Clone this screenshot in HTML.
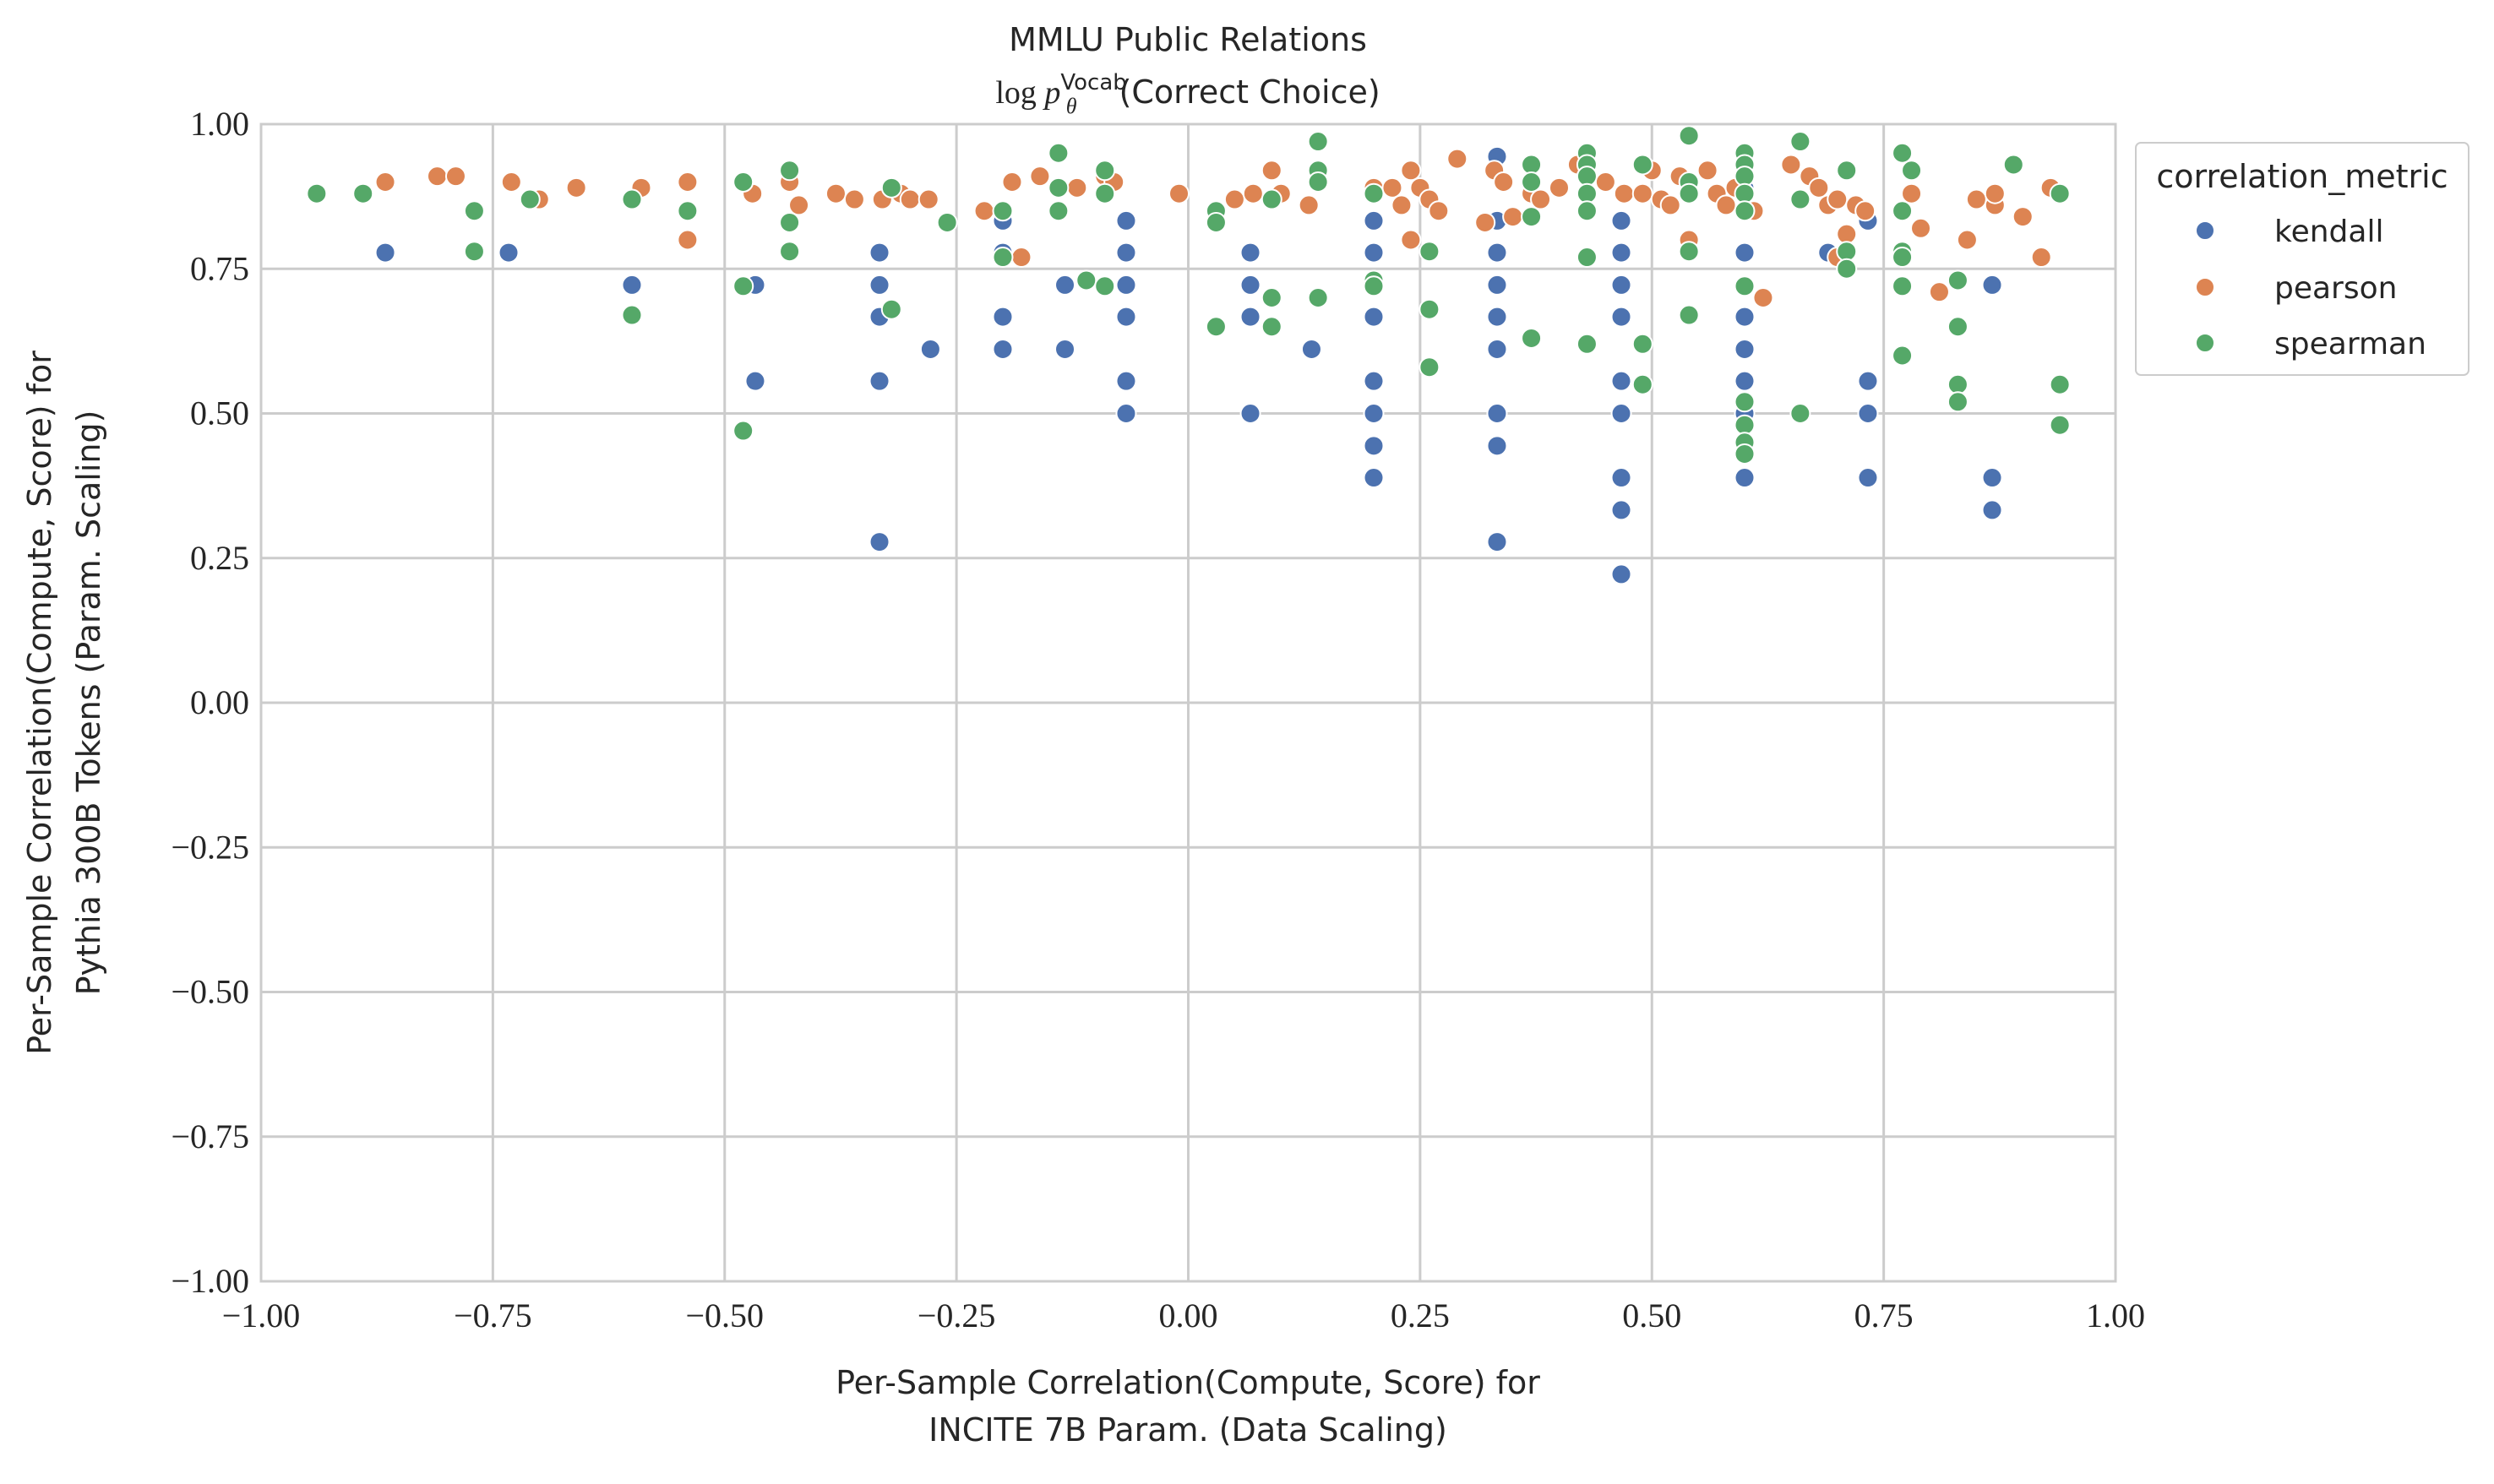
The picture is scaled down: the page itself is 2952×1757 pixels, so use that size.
<!DOCTYPE html>
<html><head><meta charset="utf-8"><style>
body{margin:0;background:#fff;}
svg text{font-family:"DejaVu Sans","Liberation Sans",sans-serif;fill:#262626;}
.tick{font-family:"Liberation Serif",serif;font-size:40px;}
</style></head><body>
<svg id="chart" width="2952" height="1752" viewBox="0 0 2952 1752" xmlns="http://www.w3.org/2000/svg">
<rect width="2952" height="1752" fill="#fff"/>
<g id="grid"></g>
<g id="points"></g>
<rect x="309" y="147" width="2195" height="1370" fill="none" stroke="#cccccc" stroke-width="3"/>
<g id="ticks"></g>
<text x="1406" y="60" text-anchor="middle" font-size="38">MMLU Public Relations</text>
<text x="1406" y="122" text-anchor="middle" font-size="38"><tspan font-family="Liberation Serif" font-style="normal">log </tspan><tspan font-family="Liberation Serif" font-style="italic">p</tspan><tspan font-size="26" dy="-16">Vocab</tspan><tspan font-family="Liberation Serif" font-style="italic" font-size="26" dx="-72" dy="28">θ</tspan><tspan dx="50" dy="-12">(Correct Choice)</tspan></text>
<text x="1406" y="1650" text-anchor="middle" font-size="38">Per-Sample Correlation(Compute, Score) for</text>
<text x="1406" y="1706" text-anchor="middle" font-size="38">INCITE 7B Param. (Data Scaling)</text>
<text transform="translate(60,832) rotate(-90)" text-anchor="middle" font-size="38">Per-Sample Correlation(Compute, Score) for</text>
<text transform="translate(118,832) rotate(-90)" text-anchor="middle" font-size="38">Pythia 300B Tokens (Param. Scaling)</text>
<g>
<rect x="2528" y="169" width="394" height="275" rx="6" fill="#fff" stroke="#cccccc" stroke-width="2"/>
<text x="2725" y="222" text-anchor="middle" font-size="38">correlation_metric</text>
<g><circle cx="2610" cy="273" r="11" fill="#4c72b0" stroke="#fff" stroke-width="2"/><text x="2692" y="286" font-size="36">kendall</text></g>
<g><circle cx="2610" cy="340" r="11" fill="#dd8452" stroke="#fff" stroke-width="2"/><text x="2692" y="353" font-size="36">pearson</text></g>
<g><circle cx="2610" cy="406" r="11" fill="#55a868" stroke="#fff" stroke-width="2"/><text x="2692" y="419" font-size="36">spearman</text></g>
</g>
</svg>
<script>
const xTicks=[-1,-0.75,-0.5,-0.25,0,0.25,0.5,0.75,1];
const yTicks=[-1,-0.75,-0.5,-0.25,0,0.25,0.5,0.75,1];
const kendallX=[-0.866,-0.733,-0.6,-0.467,-0.467,-0.333,-0.333,-0.333,-0.333,-0.333,-0.278,-0.2,-0.2,-0.2,-0.2,-0.133,-0.133,-0.067,-0.067,-0.067,-0.067,-0.067,-0.067,0.067,0.067,0.067,0.067,0.133,0.2,0.2,0.2,0.2,0.2,0.2,0.2,0.2,0.333,0.333,0.333,0.333,0.333,0.333,0.333,0.333,0.333,0.467,0.467,0.467,0.467,0.467,0.467,0.467,0.467,0.467,0.6,0.6,0.6,0.6,0.6,0.6,0.6,0.6,0.69,0.733,0.733,0.733,0.733,0.867,0.867,0.867];
const kendallY=[0.778,0.778,0.722,0.722,0.556,0.778,0.722,0.667,0.556,0.278,0.611,0.833,0.778,0.667,0.611,0.722,0.611,0.833,0.778,0.722,0.667,0.556,0.5,0.778,0.722,0.667,0.5,0.611,0.833,0.778,0.722,0.667,0.556,0.5,0.444,0.389,0.944,0.833,0.778,0.722,0.667,0.611,0.5,0.444,0.278,0.833,0.778,0.722,0.667,0.556,0.5,0.389,0.333,0.222,0.889,0.778,0.722,0.667,0.611,0.556,0.5,0.389,0.778,0.833,0.556,0.5,0.389,0.722,0.389,0.333];
const pearsonX=[-0.866,-0.81,-0.79,-0.73,-0.7,-0.66,-0.59,-0.54,-0.54,-0.47,-0.43,-0.42,-0.38,-0.36,-0.33,-0.31,-0.3,-0.28,-0.22,-0.19,-0.18,-0.16,-0.12,-0.09,-0.08,-0.01,0.05,0.07,0.09,0.1,0.13,0.2,0.22,0.23,0.24,0.24,0.25,0.26,0.27,0.29,0.32,0.33,0.34,0.35,0.37,0.38,0.4,0.42,0.43,0.45,0.47,0.49,0.5,0.51,0.52,0.53,0.54,0.56,0.57,0.58,0.59,0.61,0.62,0.65,0.67,0.68,0.69,0.7,0.7,0.71,0.72,0.73,0.78,0.79,0.81,0.84,0.85,0.87,0.87,0.9,0.92,0.93];
const pearsonY=[0.9,0.91,0.91,0.9,0.87,0.89,0.89,0.8,0.9,0.88,0.9,0.86,0.88,0.87,0.87,0.88,0.87,0.87,0.85,0.9,0.77,0.91,0.89,0.91,0.9,0.88,0.87,0.88,0.92,0.88,0.86,0.89,0.89,0.86,0.92,0.8,0.89,0.87,0.85,0.94,0.83,0.92,0.9,0.84,0.88,0.87,0.89,0.93,0.88,0.9,0.88,0.88,0.92,0.87,0.86,0.91,0.8,0.92,0.88,0.86,0.89,0.85,0.7,0.93,0.91,0.89,0.86,0.87,0.77,0.81,0.86,0.85,0.88,0.82,0.71,0.8,0.87,0.86,0.88,0.84,0.77,0.89];
const spearmanX=[-0.94,-0.89,-0.77,-0.77,-0.71,-0.6,-0.6,-0.54,-0.48,-0.48,-0.48,-0.43,-0.43,-0.43,-0.32,-0.32,-0.26,-0.2,-0.2,-0.14,-0.14,-0.14,-0.11,-0.09,-0.09,-0.09,0.03,0.03,0.03,0.09,0.09,0.09,0.14,0.14,0.14,0.14,0.2,0.2,0.2,0.26,0.26,0.26,0.37,0.37,0.37,0.37,0.43,0.43,0.43,0.43,0.43,0.43,0.43,0.49,0.49,0.49,0.54,0.54,0.54,0.54,0.54,0.6,0.6,0.6,0.6,0.6,0.6,0.6,0.6,0.6,0.6,0.66,0.66,0.66,0.71,0.71,0.71,0.77,0.77,0.77,0.77,0.77,0.77,0.78,0.83,0.83,0.83,0.83,0.89,0.94,0.94,0.94];
const spearmanY=[0.88,0.88,0.85,0.78,0.87,0.87,0.67,0.85,0.9,0.72,0.47,0.92,0.83,0.78,0.89,0.68,0.83,0.85,0.77,0.95,0.89,0.85,0.73,0.92,0.88,0.72,0.85,0.83,0.65,0.87,0.7,0.65,0.97,0.92,0.9,0.7,0.88,0.73,0.72,0.78,0.68,0.58,0.93,0.9,0.84,0.63,0.95,0.93,0.91,0.88,0.85,0.77,0.62,0.93,0.62,0.55,0.98,0.9,0.88,0.78,0.67,0.95,0.93,0.91,0.88,0.85,0.72,0.52,0.48,0.45,0.43,0.97,0.87,0.5,0.92,0.78,0.75,0.95,0.85,0.78,0.77,0.72,0.6,0.92,0.73,0.65,0.55,0.52,0.93,0.88,0.55,0.48];
const NS="http://www.w3.org/2000/svg";
const L=309,R=2504,T=147,B=1517;
function sx(v){return L+(v+1)/2*(R-L);}
function sy(v){return B-(v+1)/2*(B-T);}
const grid=document.getElementById('grid'),ticks=document.getElementById('ticks'),pts=document.getElementById('points');
function fmt(v){const s=Math.abs(v).toFixed(2);return (v<0?'\u2212':'')+s;}
xTicks.forEach(v=>{
const ln=document.createElementNS(NS,'line');


ln.setAttribute('x1',sx(v));ln.setAttribute('x2',sx(v));ln.setAttribute('y1',T);ln.setAttribute('y2',B);
ln.setAttribute('stroke','#cccccc');ln.setAttribute('stroke-width','3');grid.appendChild(ln);
const t=document.createElementNS(NS,'text');


t.setAttribute('x',sx(v));t.setAttribute('y',B+54);t.setAttribute('text-anchor','middle');t.setAttribute('class','tick');
t.textContent=fmt(v);ticks.appendChild(t);
});
yTicks.forEach(v=>{
const ln=document.createElementNS(NS,'line');


ln.setAttribute('x1',L);ln.setAttribute('x2',R);ln.setAttribute('y1',sy(v));ln.setAttribute('y2',sy(v));
ln.setAttribute('stroke','#cccccc');ln.setAttribute('stroke-width','3');grid.appendChild(ln);
const t=document.createElementNS(NS,'text');


t.setAttribute('x',L-14);t.setAttribute('y',sy(v)+13);t.setAttribute('text-anchor','end');t.setAttribute('class','tick');
t.textContent=fmt(v);ticks.appendChild(t);
});
function series(xs,ys,color,name){
xs.forEach((x,i)=>{
const c=document.createElementNS(NS,'circle');


c.setAttribute('cx',sx(x));c.setAttribute('cy',sy(ys[i]));c.setAttribute('r','11.5');
c.setAttribute('fill',color);c.setAttribute('stroke','#fff');c.setAttribute('stroke-width','2');
pts.appendChild(c);
});
}
series(kendallX,kendallY,'#4c72b0','kendall');
series(pearsonX,pearsonY,'#dd8452','pearson');
series(spearmanX,spearmanY,'#55a868','spearman');
</script>
</body></html>
